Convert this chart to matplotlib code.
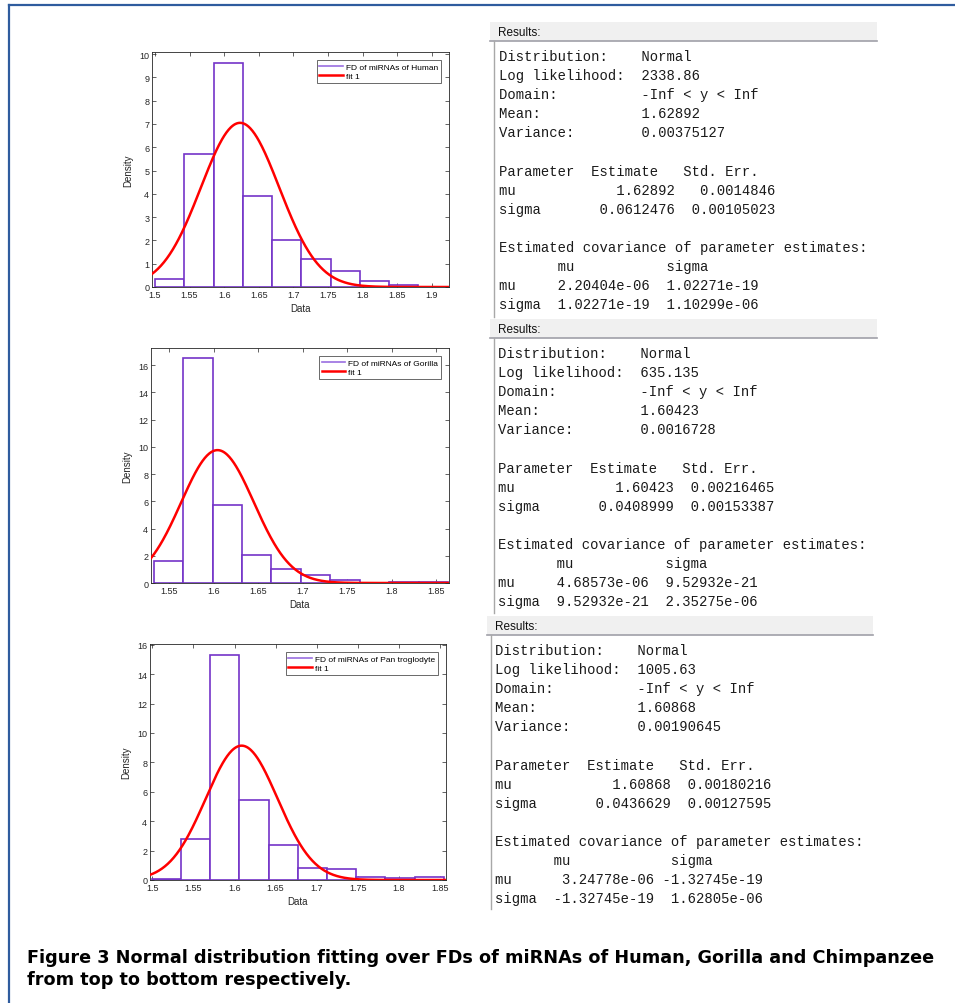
import numpy as np
import matplotlib
matplotlib.use("Agg")
import matplotlib.pyplot as plt
from matplotlib.lines import Line2D

# histogram bin edges and densities
human_edges = [1.5, 1.5423, 1.5846, 1.6269, 1.6692, 1.7115, 1.7538, 1.7961, 1.8384, 1.8807]
human_density = [0.35, 5.7, 9.62, 3.9, 2.03, 1.22, 0.68, 0.25, 0.1]
human_fit = (1.623, 0.0566)  # mu, sigma of the drawn curve

gorilla_edges = [1.5325, 1.5656, 1.5987, 1.6318, 1.6649, 1.698, 1.7311, 1.7642, 1.7973, 1.8304, 1.8635]
gorilla_density = [1.64, 16.5, 5.7, 2.03, 1.0, 0.56, 0.24, 0.03, 0.08, 0.08]
gorilla_fit = (1.60423, 0.0408999)

chimp_edges = [1.4995, 1.535, 1.5705, 1.606, 1.6415, 1.677, 1.7125, 1.748, 1.7835, 1.819, 1.8545]
chimp_density = [0.08, 2.82, 15.3, 5.47, 2.35, 0.8, 0.75, 0.22, 0.12, 0.18]
chimp_fit = (1.60868, 0.0436629)

human_results = [
    "Distribution:    Normal",
    "Log likelihood:  2338.86",
    "Domain:          -Inf < y < Inf",
    "Mean:            1.62892",
    "Variance:        0.00375127",
    "",
    "Parameter  Estimate   Std. Err.",
    "mu            1.62892   0.0014846",
    "sigma       0.0612476  0.00105023",
    "",
    "Estimated covariance of parameter estimates:",
    "       mu           sigma",
    "mu     2.20404e-06  1.02271e-19",
    "sigma  1.02271e-19  1.10299e-06",
]
gorilla_results = [
    "Distribution:    Normal",
    "Log likelihood:  635.135",
    "Domain:          -Inf < y < Inf",
    "Mean:            1.60423",
    "Variance:        0.0016728",
    "",
    "Parameter  Estimate   Std. Err.",
    "mu            1.60423  0.00216465",
    "sigma       0.0408999  0.00153387",
    "",
    "Estimated covariance of parameter estimates:",
    "       mu           sigma",
    "mu     4.68573e-06  9.52932e-21",
    "sigma  9.52932e-21  2.35275e-06",
]
chimp_results = [
    "Distribution:    Normal",
    "Log likelihood:  1005.63",
    "Domain:          -Inf < y < Inf",
    "Mean:            1.60868",
    "Variance:        0.00190645",
    "",
    "Parameter  Estimate   Std. Err.",
    "mu            1.60868  0.00180216",
    "sigma       0.0436629  0.00127595",
    "",
    "Estimated covariance of parameter estimates:",
    "       mu            sigma",
    "mu      3.24778e-06 -1.32745e-19",
    "sigma  -1.32745e-19  1.62805e-06",
]

caption = ["Figure 3 Normal distribution fitting over FDs of miRNAs of Human, Gorilla and Chimpanzee",
           "from top to bottom respectively."]

W, H = 955, 1004
PURPLE = "#7434c8"
AXC = "#262626"
MONO = "Liberation Mono"
SANS = "Liberation Sans"


def hist_panel(fig, rect, edges, dens, fit, label, xlim, ylim, xticks, yticks):
    ax = fig.add_axes(rect)
    ax.bar(edges[:-1], dens, width=np.diff(edges), align="edge",
           facecolor="white", edgecolor=PURPLE, linewidth=1.2, zorder=2)
    mu, sigma = fit
    xs = np.linspace(xlim[0], xlim[1], 400)
    ys = np.exp(-0.5 * ((xs - mu) / sigma) ** 2) / (sigma * np.sqrt(2 * np.pi))
    ax.plot(xs, ys, color="#ff0000", lw=1.8, zorder=3)
    ax.set_xlim(*xlim)
    ax.set_ylim(*ylim)
    ax.set_xticks(xticks)
    ax.set_yticks(yticks)
    ax.xaxis.set_major_formatter(matplotlib.ticker.FormatStrFormatter("%g"))
    ax.tick_params(direction="in", length=3, width=0.5, colors=AXC, labelsize=6.5,
                   top=True, right=True, pad=2)
    for lab in ax.get_xticklabels() + ax.get_yticklabels():
        lab.set_family(SANS)
    for s in ax.spines.values():
        s.set_color(AXC)
        s.set_linewidth(0.6)
    ax.set_xlabel("Data", fontsize=7, family=SANS, color=AXC, labelpad=3)
    ax.set_ylabel("Density", fontsize=7, family=SANS, color=AXC, labelpad=4)
    handles = [Line2D([], [], color="#9a6ee0", lw=1.2),
               Line2D([], [], color="#ff0000", lw=1.8)]
    leg = ax.legend(handles, [label, "fit 1"], loc="upper right",
                    prop={"family": SANS, "size": 6}, frameon=True, fancybox=False,
                    edgecolor=AXC, borderaxespad=1.0, handlelength=2.8,
                    borderpad=0.3, labelspacing=0.2, handletextpad=0.4)
    leg.get_frame().set_linewidth(0.6)
    return ax


def results_panel(ov, x0, x1, top, bottom, text_x, lines):
    # header strip
    ov.add_patch(plt.Rectangle((x0, top), x1 - x0, 19, facecolor="#f0f0f0", edgecolor="none"))
    ov.plot([x0, x1], [top + 19, top + 19], color="#a0a0a8", lw=1.2)
    ov.text(x0 + 8, top + 10, "Results:", fontsize=8.5, family=SANS, va="center", color="#101010")
    ov.plot([x0 + 4, x0 + 4], [top + 19, bottom], color="#a8a8a8", lw=1.0)
    y = top + 34
    for ln in lines:
        ov.text(text_x, y, ln, fontsize=10, family=MONO, va="center", color="#1a1a1a")
        y += 19.1


fig = plt.figure(figsize=(W / 100, H / 100), dpi=100)

ov = fig.add_axes([0, 0, 1, 1])
ov.set_xlim(0, W)
ov.set_ylim(H, 0)
ov.axis("off")
ov.plot([9, W], [6, 6], color="#2f5c9e", lw=1.6)
ov.plot([9, 9], [6, H], color="#2f5c9e", lw=1.6)

results_panel(ov, 490, 877, 23, 318, 499, human_results)
results_panel(ov, 490, 877, 320, 614, 498, gorilla_results)
results_panel(ov, 487, 873, 617, 910, 495, chimp_results)

ov.text(27, 958, caption[0], fontsize=12.7, family="DejaVu Sans", weight="bold", va="center")
ov.text(27, 980, caption[1], fontsize=12.7, family="DejaVu Sans", weight="bold", va="center")

hist_panel(fig, [152 / W, 1 - 288 / H, 297 / W, 235 / H], human_edges, human_density, human_fit,
           "FD of miRNAs of Human", (1.4957, 1.925), (0, 10.09),
           [1.5, 1.55, 1.6, 1.65, 1.7, 1.75, 1.8, 1.85, 1.9], range(0, 11))
hist_panel(fig, [151 / W, 1 - 584 / H, 298 / W, 235 / H], gorilla_edges, gorilla_density, gorilla_fit,
           "FD of miRNAs of Gorilla", (1.5294, 1.8646), (0, 17.25),
           [1.55, 1.6, 1.65, 1.7, 1.75, 1.8, 1.85], range(0, 17, 2))
hist_panel(fig, [150 / W, 1 - 881 / H, 296 / W, 236 / H], chimp_edges, chimp_density, chimp_fit,
           "FD of miRNAs of Pan troglodyte", (1.4972, 1.8573), (0, 16.05),
           [1.5, 1.55, 1.6, 1.65, 1.7, 1.75, 1.8, 1.85], range(0, 17, 2))

fig.savefig("out.png", dpi=100)
